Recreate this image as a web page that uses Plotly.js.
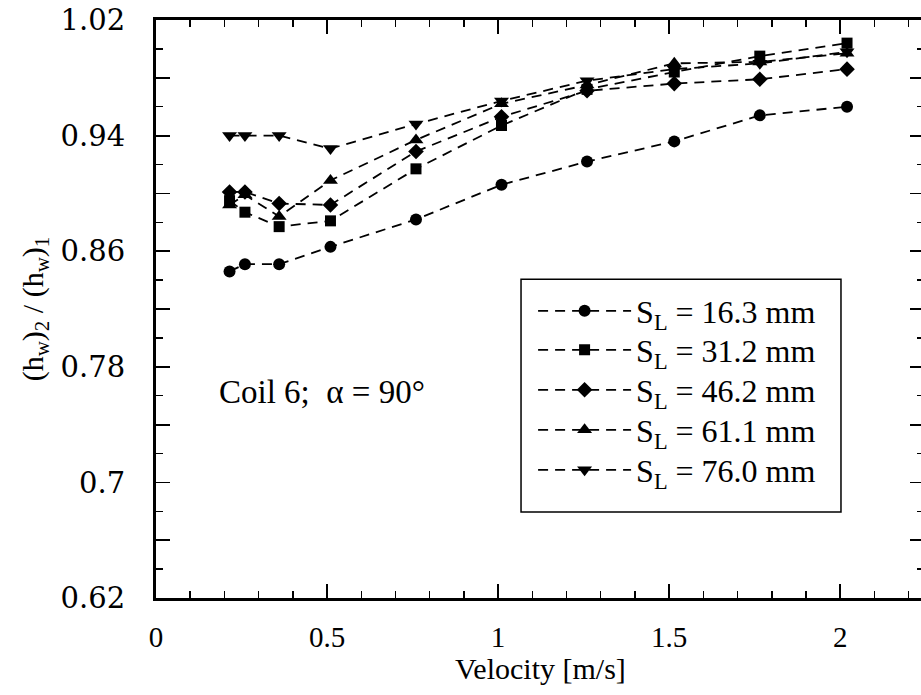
<!DOCTYPE html>
<html>
<head>
<meta charset="utf-8">
<script src="https://cdn.plot.ly/plotly-3.0.1.min.js"></script>
<style>html,body{margin:0;padding:0;overflow:hidden;background:#fff;}</style>
</head>
<body>
<div id="chart" style="width:930px;height:695px;"></div>
<script>
// Velocity [m/s]
const velocity = [0.215, 0.26, 0.36, 0.51, 0.76, 1.01, 1.26, 1.515, 1.765, 2.02];
// (h_w)_2 / (h_w)_1 for each longitudinal spacing S_L
const sl163 = [0.846, 0.851, 0.851, 0.863, 0.882, 0.906, 0.922, 0.936, 0.954, 0.960];
const sl312 = [0.895, 0.887, 0.877, 0.881, 0.917, 0.947, 0.972, 0.984, 0.995, 1.004];
const sl462 = [0.901, 0.901, 0.893, 0.892, 0.929, 0.953, 0.971, 0.976, 0.979, 0.986];
const sl611 = [0.892, 0.899, 0.884, 0.909, 0.937, 0.962, 0.975, 0.990, 0.991, 0.997];
const sl760 = [0.940, 0.940, 0.940, 0.931, 0.948, 0.964, 0.978, 0.986, 0.990, 0.998];

const seriesNames = ['S<sub>L</sub> = 16.3 mm', 'S<sub>L</sub> = 31.2 mm', 'S<sub>L</sub> = 46.2 mm',
                     'S<sub>L</sub> = 61.1 mm', 'S<sub>L</sub> = 76.0 mm'];
const seriesValues = [sl163, sl312, sl462, sl611, sl760];
const symbols = ['circle', 'square', 'diamond', 'triangle-up', 'triangle-down'];
const symbolSizes = [12, 11, 12, 13, 13];

const xTickVals = [0, 0.5, 1, 1.5, 2];
const xTickText = ['0', '0.5', '1', '1.5', '2'];
const yTickVals = [0.62, 0.66, 0.70, 0.74, 0.78, 0.82, 0.86, 0.90, 0.94, 0.98, 1.02];
const yTickText = ['0.62', ' ', '0.7', ' ', '0.78', ' ', '0.86', ' ', '0.94', ' ', '1.02'];

const xTitle = 'Velocity [m/s]';
const yTitle = '(h<sub>w</sub>)<sub>2</sub> / (h<sub>w</sub>)<sub>1</sub>';
const annotationText = 'Coil 6;\u00a0\u00a0\u03b1 = 90\u00b0';

const legendIds = ['legend', 'legend2', 'legend3', 'legend4', 'legend5'];

const traces = seriesValues.map((vals, i) => ({
  x: velocity,
  y: vals,
  name: seriesNames[i],
  legend: legendIds[i],
  type: 'scatter',
  mode: 'lines+markers',
  line: {color: '#000', width: 1.8, dash: '10px,7px'},
  marker: {symbol: symbols[i], size: symbolSizes[i], color: '#000'}
}));

const serif = "'Liberation Serif', 'Times New Roman', Times, serif";

// plot area in pixels: left 156, top 20, width 768, height 578
const plotTop = 20, plotH = 578;
const legendRowPx = [311, 350, 390, 430, 470];

const layout = {
  width: 930,
  height: 695,
  margin: {l: 156, r: 6, t: 20, b: 97},
  paper_bgcolor: '#fff',
  plot_bgcolor: '#fff',
  showlegend: true,
  xaxis: {
    range: [0, 2.245],
    tickvals: xTickVals,
    ticktext: xTickText,
    ticks: 'inside',
    ticklen: 14,
    tickwidth: 1.8,
    tickcolor: '#000',
    minor: {dtick: 0.1, ticks: 'inside', ticklen: 7, tickwidth: 1.5, tickcolor: '#000'},
    showline: true,
    linewidth: 3,
    linecolor: '#000',
    mirror: 'ticks',
    showgrid: false,
    zeroline: false,
    ticklabelstandoff: 11,
    tickfont: {family: serif, size: 29, color: '#000'}
  },
  yaxis: {
    range: [0.62, 1.02],
    tickvals: yTickVals,
    ticktext: yTickText,
    ticks: 'inside',
    ticklen: 14,
    tickwidth: 1.8,
    tickcolor: '#000',
    minor: {dtick: 0.02, ticks: 'inside', ticklen: 7, tickwidth: 1.5, tickcolor: '#000'},
    showline: true,
    linewidth: 3,
    linecolor: '#000',
    mirror: 'ticks',
    showgrid: false,
    zeroline: false,
    ticklabelstandoff: 22,
    tickfont: {family: "'DejaVu Serif', serif", size: 29, color: '#000'},
    title: {text: yTitle, font: {family: serif, size: 30, color: '#000'}, standoff: 9}
  },
  shapes: [{
    type: 'rect', xref: 'paper', yref: 'paper',
    x0: 0.4753, x1: 0.8919, y0: 0.1487, y1: 0.5514,
    line: {color: '#000', width: 1.5}, fillcolor: 'rgba(0,0,0,0)'
  }],
  annotations: [{
    text: annotationText,
    xref: 'paper', yref: 'paper',
    x: (322 - 156) / 768, y: (598 - 392) / plotH,
    xanchor: 'center', yanchor: 'middle',
    showarrow: false,
    font: {family: serif, size: 33, color: '#000'}
  }, {
    text: xTitle,
    xref: 'paper', yref: 'paper',
    x: 0.5, y: (598 - 668) / plotH,
    xanchor: 'center', yanchor: 'middle',
    showarrow: false,
    font: {family: serif, size: 30, color: '#000'}
  }]
};

legendIds.forEach((id, i) => {
  layout[id] = {
    x: 0.491,
    y: (plotTop + plotH - legendRowPx[i]) / plotH,
    xanchor: 'left',
    yanchor: 'middle',
    bgcolor: 'rgba(0,0,0,0)',
    borderwidth: 0,
    itemwidth: 93,
    font: {family: serif, size: 32, color: '#000'}
  };
});

Plotly.newPlot('chart', traces, layout, {displayModeBar: false, staticPlot: true});
</script>
</body>
</html>
